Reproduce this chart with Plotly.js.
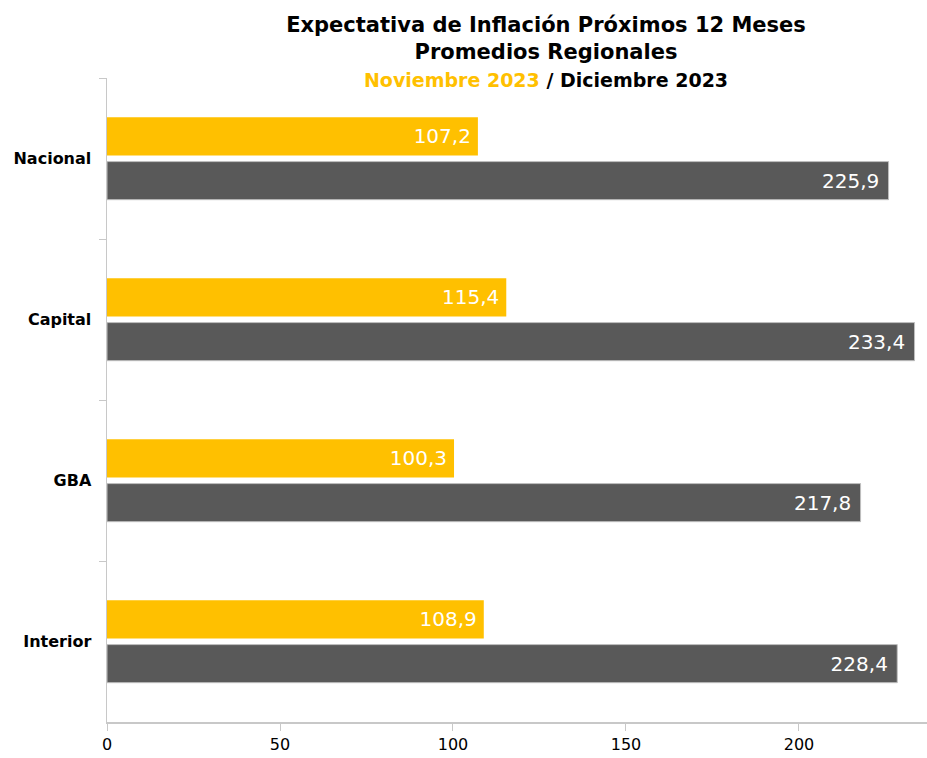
<!DOCTYPE html>
<html><head><meta charset="utf-8">
<script src="https://cdn.plot.ly/plotly-3.0.1.min.js"></script>
<style>body{margin:0;background:#fff}#c{width:927px;height:758px}</style>
</head><body><div id="c"></div>
<script>
const categories = ["Nacional", "Capital", "GBA", "Interior"];
const nov2023 = [107.2, 115.4, 100.3, 108.9];
const dic2023 = [225.9, 233.4, 217.8, 228.4];
const xTicks = [0, 50, 100, 150, 200];

const F = "'DejaVu Sans', 'Noto Sans', sans-serif";
const common = {
  type: 'bar', orientation: 'h', y: categories,
  textposition: 'inside', insidetextanchor: 'end',
  textfont: {family: F, size: 20, color: '#ffffff'},
  hoverinfo: 'x+y', cliponaxis: false
};
const traces = [
  Object.assign({}, common, {name: 'Noviembre 2023', x: nov2023, texttemplate: '%{x:.1f}\u2009',
    marker: {color: '#FFC000'}}),
  Object.assign({}, common, {name: 'Diciembre 2023', x: dic2023, texttemplate: '%{x:.1f}\u00a0',
    marker: {color: '#595959', line: {color: '#bfbfbf', width: 1}}})
];
const layout = {
  width: 927, height: 758,
  margin: {l: 107, r: 0, t: 78, b: 36},
  paper_bgcolor: '#fff', plot_bgcolor: '#fff',
  separators: ',.',
  showlegend: false,
  barmode: 'group', bargap: 0.45, bargroupgap: 0.14,
  font: {family: F, color: '#000'},
  title: {
    text: "<b>Expectativa de Inflación Próximos 12 Meses<br>Promedios Regionales<br><span style='font-size:19px'><span style='color:#FFC000'>Noviembre 2023</span> / Diciembre 2023</span></b>",
    font: {family: F, size: 21, color: '#000'},
    xref: 'container', x: 546/927, xanchor: 'center',
    yref: 'container', y: 1 - 32/758, yanchor: 'top'
  },
  xaxis: {
    range: [0, 237], tickvals: xTicks, ticktext: xTicks.map(String),
    showgrid: false, zeroline: false, showline: true, linecolor: '#c8c8c8', linewidth: 1.5,
    ticks: 'outside', ticklen: 7, tickcolor: '#c8c8c8',
    tickfont: {family: F, size: 16, color: '#000'}
  },
  yaxis: {
    autorange: 'reversed', type: 'category',
    showgrid: false, zeroline: false, showline: true, linecolor: '#c8c8c8', linewidth: 1.5,
    ticks: 'outside', tickson: 'boundaries', ticklen: 7, tickcolor: '#c8c8c8',
    tickfont: {family: F, size: 16, color: '#000', weight: 'bold'},
    ticklabelstandoff: 11
  }
};
Plotly.newPlot('c', traces, layout, {displayModeBar: false, staticPlot: true});
</script></body></html>
